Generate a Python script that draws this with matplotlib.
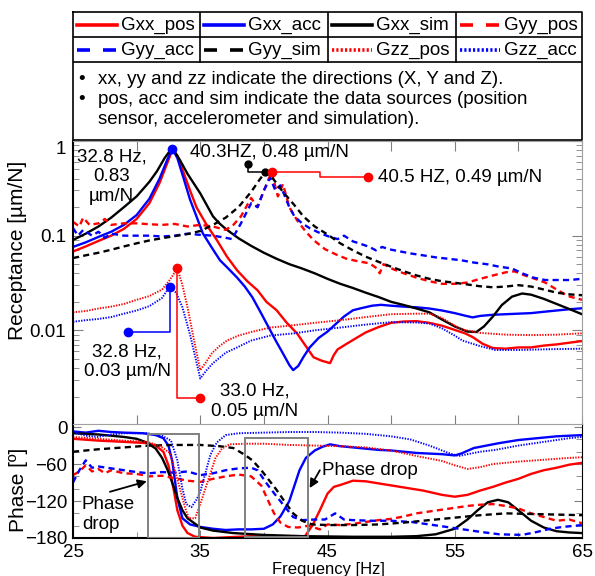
import matplotlib
matplotlib.use("Agg")
import matplotlib.pyplot as plt
from matplotlib.patches import Rectangle
from matplotlib.ticker import FixedLocator, LogLocator, NullFormatter

plt.rcParams["font.family"] = ["Liberation Sans", "DejaVu Sans"]

# ---- receptance magnitude [um/N] vs frequency [Hz] ----
f_xx_pos = [25, 26, 27, 28, 29, 30, 31, 31.8, 32.4, 32.8, 33.2, 33.6, 34.2, 34.7, 35.5, 36.3, 37.1, 37.9,
            38.7, 39.5, 40.2, 41, 41.8, 42.6, 43.3, 43.9, 44.5, 45.2, 45.5, 45.8, 46.5, 47.2, 48, 49, 50,
            51, 52, 53, 54, 55, 55.8, 56.4, 57.2, 58, 59, 60, 61, 62, 63, 64, 65]
g_xx_pos = [0.068, 0.077, 0.088, 0.1, 0.118, 0.15, 0.22, 0.36, 0.58, 0.8, 0.7, 0.5, 0.3, 0.2, 0.13, 0.09,
            0.06, 0.043, 0.033, 0.0265, 0.02, 0.0163, 0.012, 0.0093, 0.0068, 0.0052, 0.0048, 0.0045, 0.0055,
            0.0063, 0.0072, 0.0082, 0.0095, 0.0108, 0.012, 0.0124, 0.0125, 0.012, 0.0112, 0.0101, 0.0093,
            0.0085, 0.0072, 0.0065, 0.0064, 0.0066, 0.0066, 0.0069, 0.0071, 0.0074, 0.0077]

f_xx_acc = [25, 26, 27, 28, 29, 30, 31, 31.8, 32.4, 32.8, 33.2, 33.7, 34.2, 34.7, 35.2, 35.9, 36.55, 37.2,
            37.9, 38.5, 39.1, 39.8, 40.5, 41, 41.5, 42, 42.3, 42.7, 43.1, 43.6, 44.3, 45, 45.6, 46.3, 47,
            47.7, 48.5, 49.2, 50, 51, 52, 53, 54, 55, 55.8, 56.4, 57, 58, 59, 60, 61, 62, 63, 64, 65]
g_xx_acc = [0.076, 0.085, 0.097, 0.11, 0.13, 0.165, 0.245, 0.4, 0.63, 0.83, 0.66, 0.4, 0.24, 0.16, 0.106,
            0.075, 0.055, 0.045, 0.036, 0.029, 0.0223, 0.015, 0.01, 0.0075, 0.0057, 0.0043, 0.0038, 0.0042,
            0.0052, 0.0066, 0.0083, 0.0097, 0.0115, 0.014, 0.0163, 0.0172, 0.0182, 0.0186, 0.0182, 0.0178,
            0.0175, 0.017, 0.0162, 0.0152, 0.0143, 0.0137, 0.0142, 0.0146, 0.0148, 0.015, 0.0152, 0.0157,
            0.0162, 0.0167, 0.0171]

f_xx_sim = [25, 26, 27, 28, 29, 30, 31, 31.6, 32.2, 32.8, 33.4, 34, 35, 36, 36.5, 37, 38, 39, 40, 41, 42,
            43, 44, 45, 46, 47, 48, 49, 50, 51, 52, 53, 54, 55, 56, 56.7, 57.3, 58, 58.7, 59.5, 60.3, 61,
            62, 63, 64, 65]
g_xx_sim = [0.09, 0.105, 0.125, 0.155, 0.2, 0.26, 0.37, 0.48, 0.66, 0.85, 0.63, 0.45, 0.28, 0.16, 0.135,
            0.118, 0.094, 0.078, 0.066, 0.057, 0.05, 0.045, 0.04, 0.035, 0.031, 0.028, 0.025, 0.0225, 0.02,
            0.0185, 0.017, 0.0155, 0.013, 0.011, 0.0097, 0.0096, 0.011, 0.014, 0.0185, 0.0227, 0.0245,
            0.0238, 0.0215, 0.019, 0.0168, 0.0148]

f_yy_pos = [25, 25.5, 25.8, 26.3, 27, 27.5, 28, 29, 30, 31, 32, 33, 34, 35, 36, 37, 37.6, 38.2, 39, 39.5,
            40, 40.6, 41.1, 41.5, 42, 42.6, 43.3, 43.9, 44.8, 45.7, 46.5, 47.3, 48.3, 48.9, 49.1, 49.4,
            50.2, 51, 52, 53, 54, 55, 56, 57, 58, 59, 59.7, 60.5, 61.3, 62.1, 63, 63.9, 65]
g_yy_pos = [0.14, 0.125, 0.155, 0.13, 0.135, 0.15, 0.13, 0.135, 0.135, 0.132, 0.13, 0.133, 0.125, 0.13,
            0.125, 0.115, 0.13, 0.16, 0.25, 0.2, 0.3, 0.47, 0.26, 0.35, 0.2, 0.146, 0.11, 0.09, 0.072,
            0.063, 0.057, 0.054, 0.051, 0.045, 0.04, 0.05, 0.044, 0.04, 0.036, 0.033, 0.031, 0.031, 0.032,
            0.035, 0.038, 0.041, 0.042, 0.038, 0.035, 0.032, 0.027, 0.023, 0.021]

f_yy_acc = [25, 25.4, 25.8, 26.5, 27, 27.5, 28, 29, 30, 31, 32, 33, 34, 35, 36, 37, 37.5, 38.2, 39, 39.5,
            40, 40.5, 40.9, 41.3, 42, 42.4, 43, 43.6, 44.5, 45.2, 45.8, 46.3, 47, 47.6, 48.3, 48.8, 49.3,
            49.8, 50.5, 51.5, 52.5, 53.5, 54.5, 55.5, 56.5, 57.5, 58.5, 59.5, 60.3, 61.2, 62.1, 63, 64, 65]
g_yy_acc = [0.12, 0.1, 0.115, 0.1, 0.11, 0.095, 0.105, 0.1, 0.1, 0.1, 0.098, 0.1, 0.105, 0.102, 0.1, 0.095,
            0.092, 0.135, 0.22, 0.2, 0.3, 0.41, 0.3, 0.34, 0.2, 0.16, 0.135, 0.12, 0.105, 0.097, 0.092, 0.1,
            0.087, 0.082, 0.076, 0.07, 0.076, 0.072, 0.069, 0.065, 0.062, 0.059, 0.057, 0.055, 0.052, 0.05,
            0.047, 0.045, 0.04, 0.036, 0.034, 0.034, 0.034, 0.035]

f_yy_sim = [25, 26, 27, 28, 29, 30, 31, 32, 33, 34, 35, 36, 37, 38, 39, 39.6, 40.1, 40.6, 41.5, 42.4, 43.1,
            44, 45, 46, 47, 48, 49, 50, 51, 52, 53, 54, 55, 56, 57, 58, 59, 60, 61, 62, 63, 64, 65]
g_yy_sim = [0.058, 0.062, 0.066, 0.071, 0.077, 0.083, 0.089, 0.094, 0.099, 0.104, 0.112, 0.13, 0.155, 0.2,
            0.29, 0.38, 0.47, 0.42, 0.29, 0.21, 0.16, 0.125, 0.103, 0.083, 0.07, 0.06, 0.053, 0.047, 0.042,
            0.038, 0.035, 0.033, 0.0318, 0.0305, 0.0292, 0.0285, 0.029, 0.03, 0.029, 0.027, 0.025, 0.024,
            0.0235]

f_zz_pos = [25, 26, 27, 28, 29, 30, 31, 32, 32.6, 33.2, 33.6, 34, 34.5, 35, 35.4, 35.9, 36.5, 37.1, 38, 39,
            40.5, 42, 44, 46, 48, 50, 52, 53, 54, 55, 55.6, 57, 59, 61, 63, 65]
g_zz_pos = [0.0155, 0.016, 0.017, 0.0178, 0.019, 0.021, 0.023, 0.027, 0.034, 0.045, 0.03, 0.0175, 0.008,
            0.0038, 0.0045, 0.0057, 0.0068, 0.0078, 0.0088, 0.0096, 0.0107, 0.0112, 0.012, 0.0128, 0.0138,
            0.0148, 0.015, 0.015, 0.0135, 0.0112, 0.0102, 0.0094, 0.009, 0.0089, 0.009, 0.0093]

f_zz_acc = [25, 26, 27, 28, 29, 30, 31, 32, 32.6, 33.1, 33.6, 34.2, 35, 35.5, 36, 37, 37.9, 39, 40.5, 42.4,
            44, 46, 48, 50, 52, 53, 54, 55, 55.6, 57, 58.2, 60, 62, 65]
g_zz_acc = [0.0123, 0.0128, 0.0132, 0.0138, 0.015, 0.0162, 0.018, 0.022, 0.029, 0.025, 0.0175, 0.009,
            0.0031, 0.0038, 0.0045, 0.0058, 0.0066, 0.0078, 0.0088, 0.0093, 0.01, 0.0107, 0.0115, 0.0122,
            0.0121, 0.0118, 0.0105, 0.0088, 0.0078, 0.0068, 0.0062, 0.0062, 0.0063, 0.0064]

# ---- phase [deg] vs frequency [Hz] ----
pf_xx_pos = [25, 27, 29, 30.8, 31.5, 32.1, 32.5, 32.9, 33.2, 33.6, 34, 34.6, 36, 38, 40, 42, 43.2, 43.8,
             44.4, 45, 45.5, 46, 47, 48, 49.5, 51, 52.5, 54, 55, 56, 57, 58, 59, 60, 61, 62, 63, 64, 65]
ph_xx_pos = [-19, -22, -24, -26, -30, -40, -62, -100, -135, -160, -172, -178, -180, -178, -176, -178, -178,
             -160, -135, -108, -97, -94, -87, -88, -93, -98, -103, -110, -113, -110, -103, -97, -90, -84,
             -76, -70, -66, -61, -58]

pf_xx_acc = [25, 26, 27, 28, 29, 30.5, 31.5, 32.1, 32.5, 32.8, 33, 33.2, 33.6, 34.2, 35, 36, 37, 38, 39,
             40, 40.7, 41.3, 42, 42.4, 42.8, 43.3, 44, 44.6, 45.2, 46, 47, 48, 49, 50, 51, 52, 53, 54, 55,
             55.5, 56.5, 57.5, 58.5, 60, 61.5, 63, 65]
ph_xx_acc = [-7, -9, -6, -8, -9, -10, -13, -18, -30, -55, -85, -115, -148, -158, -162, -165, -167, -166,
             -166, -165, -158, -145, -120, -95, -70, -50, -38, -32, -28, -31, -33, -35, -37, -38, -40, -42,
             -43, -44, -46, -43, -34, -30, -26, -21, -18, -15, -13]

pf_xx_sim = [25, 27, 29, 30, 30.8, 31.5, 32, 32.4, 32.8, 33.2, 33.6, 34, 35, 36, 37.6, 40, 43, 47, 50, 52,
             53.5, 55, 56, 56.8, 57.6, 58.4, 59.2, 60, 61, 62, 63, 64, 65]
ph_xx_sim = [-10, -12, -16, -19, -25, -35, -50, -68, -90, -115, -135, -148, -163, -168, -172, -175, -177,
             -178, -178, -177, -174, -165, -150, -135, -122, -118, -122, -135, -152, -163, -169, -171, -172]

pf_yy_pos = [25, 25.5, 26, 26.5, 27, 27.5, 28, 29, 30, 31, 32, 33, 34, 35, 36, 37, 38, 39, 39.8, 40.3, 40.8,
             41.3, 41.9, 42.7, 43.5, 44.4, 45, 46, 47, 48, 49, 50, 51, 52, 53, 54, 55, 56, 57, 58, 59, 60,
             61, 62, 63, 64, 65]
ph_yy_pos = [-78, -72, -62, -72, -68, -75, -70, -75, -76, -80, -79, -83, -87, -89, -84, -80, -77, -80, -95,
             -118, -140, -155, -162, -163, -160, -166, -158, -159, -157, -154, -151, -149, -145, -140, -137,
             -134, -131, -128, -126, -125, -128, -132, -140, -146, -152, -150, -156]

pf_yy_acc = [25, 25.5, 26, 26.5, 27, 28, 29, 30, 31, 32, 33, 34, 35, 36, 37, 38, 39, 39.5, 40.2, 40.9, 41.6,
             42.3, 43, 44, 44.8, 45.6, 46.3, 47, 48.5, 50, 51.6, 53, 55, 57, 58.5, 60.3, 61.5, 62.5, 63.5, 65]
ph_yy_acc = [-90, -70, -54, -66, -64, -67, -70, -73, -75, -73, -74, -72, -78, -75, -70, -67, -66, -70, -91,
             -110, -128, -146, -151, -150, -150, -140, -150, -151, -152, -152, -154, -158, -164, -170, -174,
             -175, -170, -165, -162, -159]

pf_yy_sim = [25, 27, 29, 31, 33, 35, 36.5, 37.6, 38.5, 39.1, 39.8, 40.4, 41, 41.6, 42.3, 43, 43.8, 45, 47,
             49, 51, 53, 55, 57, 59, 61, 63, 65]
ph_yy_sim = [-40, -36, -33, -30, -29, -29, -31, -34, -45, -54, -70, -86, -102, -120, -140, -152, -158, -159,
             -159, -158, -155, -151, -147, -143, -140, -141, -142, -143]

pf_zz_pos = [25, 27, 29, 30.8, 31.8, 32.6, 33, 33.4, 33.8, 34.1, 34.6, 35, 35.4, 35.8, 36.2, 36.7, 37.3,
             38.5, 40, 42, 44, 46, 48, 50, 52, 54, 55, 56, 57, 58, 60, 62, 64, 65]
ph_zz_pos = [-16, -19, -22, -24, -30, -42, -70, -100, -130, -148, -148, -125, -100, -75, -50, -35, -28, -27,
             -27, -29, -30, -31, -33, -38, -47, -55, -62, -68, -65, -60, -56, -53, -50, -49]

pf_zz_acc = [25, 26, 27, 28, 29, 30.8, 32, 32.7, 33.2, 33.6, 33.9, 34.3, 34.7, 35, 35.4, 35.8, 36.3, 37, 38,
             40, 42, 44, 46, 48, 50, 51.5, 53, 54.5, 55.3, 56, 57, 58.2, 60, 62, 64, 65]
ph_zz_acc = [-8, -14, -16, -12, -10, -10, -14, -22, -54, -100, -125, -130, -118, -105, -75, -45, -25, -13,
             -10, -9, -8, -8, -9, -11, -15, -20, -30, -42, -47, -44, -40, -37, -30, -24, -18, -16]

names = ["Gxx_pos", "Gxx_acc", "Gxx_sim", "Gyy_pos", "Gyy_acc", "Gyy_sim", "Gzz_pos", "Gzz_acc"]
mag_data = [(f_xx_pos, g_xx_pos), (f_xx_acc, g_xx_acc), (f_xx_sim, g_xx_sim), (f_yy_pos, g_yy_pos),
            (f_yy_acc, g_yy_acc), (f_yy_sim, g_yy_sim), (f_zz_pos, g_zz_pos), (f_zz_acc, g_zz_acc)]
phase_data = [(pf_xx_pos, ph_xx_pos), (pf_xx_acc, ph_xx_acc), (pf_xx_sim, ph_xx_sim), (pf_yy_pos, ph_yy_pos),
              (pf_yy_acc, ph_yy_acc), (pf_yy_sim, ph_yy_sim), (pf_zz_pos, ph_zz_pos), (pf_zz_acc, ph_zz_acc)]

RED, BLUE, BLACK, GRAY = "#ff0000", "#0000ff", "#000000", "#808080"
DASH, DOT = (0, (2.6, 1.8)), (0, (0.7, 0.7))
styles = [
    dict(color=RED, ls="-", lw=1.7),
    dict(color=BLUE, ls="-", lw=1.7),
    dict(color=BLACK, ls="-", lw=1.7),
    dict(color=RED, ls=DASH, lw=1.7),
    dict(color=BLUE, ls=DASH, lw=1.7),
    dict(color=BLACK, ls=DASH, lw=1.7),
    dict(color=RED, ls=DOT, lw=1.4),
    dict(color=BLUE, ls=DOT, lw=1.4),
]

W, H = 595, 576
FS = 13.5


def px_box(x0, y0, x1, y1):
    return [x0 / W, 1 - y1 / H, (x1 - x0) / W, (y1 - y0) / H]


fig = plt.figure(figsize=(W / 100, H / 100), dpi=100)
ax = fig.add_axes(px_box(73, 141, 582, 425))
axp = fig.add_axes(px_box(73, 424, 582, 538))

for (f, g), st in zip(mag_data, styles):
    ax.plot(f, g, **st)
for (f, p), st in zip(phase_data, styles):
    axp.plot(f, p, **st)

# ---- top panel axes ----
ax.set_yscale("log")
ax.set_xlim(25, 65)
ax.set_ylim(0.001, 1)
ax.set_yticks([0.01, 0.1, 1])
ylabs = ax.set_yticklabels(["0.01", "0.1", "1"])
ylabs[-1].set_verticalalignment("top")
ax.yaxis.set_minor_locator(LogLocator(base=10, subs=range(2, 10)))
ax.yaxis.set_minor_formatter(NullFormatter())
ax.xaxis.set_major_locator(FixedLocator(range(25, 66, 5)))
ax.set_xticklabels([])
ax.tick_params(axis="both", which="both", direction="in", top=True, right=True, color=GRAY,
               labelsize=FS, pad=5)
ax.tick_params(axis="y", which="major", length=7)
ax.tick_params(axis="y", which="minor", length=4)
ax.tick_params(axis="x", length=7)
for side in ["top", "right"]:
    ax.spines[side].set_color("#a0a0a0")
ax.spines["left"].set_linewidth(1.5)

# ---- phase panel axes ----
axp.set_xlim(25, 65)
axp.set_ylim(-180, 5)
axp.set_yticks([0, -60, -120, -180])
axp.yaxis.set_minor_locator(FixedLocator(range(-160, 1, 20)))
axp.xaxis.set_major_locator(FixedLocator([25, 35, 45, 55, 65]))
axp.xaxis.set_minor_locator(FixedLocator([30, 40, 50, 60]))
axp.tick_params(axis="both", which="both", direction="in", right=True, color=GRAY, labelsize=FS, pad=4)
axp.tick_params(axis="both", which="major", length=6)
axp.tick_params(axis="both", which="minor", length=4)
axp.spines["top"].set_color("#a0a0a0")
axp.spines["left"].set_linewidth(1.5)
axp.spines["bottom"].set_linewidth(1.5)

# ---- peak annotations on the receptance panel ----
dot = dict(marker="o", ms=7, mec="none", ls="none", zorder=5)
lead = dict(lw=1.1, zorder=4)

ax.plot([32.8], [0.83], color=BLUE, **dot)
ax.text(28.05, 0.42, "32.8 Hz,\n0.83\nµm/N", ha="center", va="center", fontsize=FS)

ax.plot([38.75, 38.75, 40.1], [0.57, 0.47, 0.47], color=BLACK, **lead)
ax.plot([38.75, 40.1], [0.57, 0.47], color=BLACK, **dict(dot, ms=6))
ax.text(34.2, 0.76, "40.3HZ, 0.48 µm/N", ha="left", va="center", fontsize=FS)

ax.plot([40.6, 44.4, 44.4, 48.2], [0.47, 0.47, 0.416, 0.416], color=RED, **lead)
ax.plot([40.6, 48.2], [0.47, 0.416], color=RED, **dot)
ax.text(48.95, 0.416, "40.5 HZ, 0.49 µm/N", ha="left", va="center", fontsize=FS)

ax.plot([32.6, 32.6, 29.3], [0.029, 0.0095, 0.0095], color=BLUE, **lead)
ax.plot([32.6, 29.3], [0.029, 0.0095], color=BLUE, **dot)
ax.text(29.25, 0.0047, "32.8 Hz,\n0.03 µm/N", ha="center", va="center", fontsize=FS)

ax.plot([33.2, 33.2, 35.0], [0.045, 0.00195, 0.00195], color=RED, **lead)
ax.plot([33.2, 35.0], [0.045, 0.00195], color=RED, **dot)
ax.text(39.3, 0.00178, "33.0 Hz,\n0.05 µm/N", ha="center", va="center", fontsize=FS)

# ---- phase drop boxes and arrows ----
axp.add_patch(Rectangle((30.9, -180), 4.0, 169, fill=False, ec=GRAY, lw=1.4, zorder=6))
axp.add_patch(Rectangle((38.5, -178), 5.0, 160, fill=False, ec=GRAY, lw=1.4, zorder=6))
arrow = dict(arrowstyle="-|>", color=BLACK, lw=1.3, mutation_scale=13, shrinkA=0, shrinkB=0)
axp.annotate("", xy=(30.8, -88), xytext=(27.9, -105), arrowprops=arrow)
axp.text(25.7, -142, "Phase\ndrop", ha="left", va="center", fontsize=FS)
axp.annotate("", xy=(43.6, -99), xytext=(44.4, -70), arrowprops=arrow)
axp.text(44.55, -70, "Phase drop", ha="left", va="center", fontsize=FS)

# ---- axis titles ----
fig.text(18 / W, 1 - 250 / H, "Receptance [µm/N]", rotation=90, ha="center", va="center", fontsize=15)
fig.text(18 / W, 1 - 490 / H, "Phase [º]", rotation=90, ha="center", va="center", fontsize=15)
fig.text(328 / W, 1 - 562 / H, "Frequency [Hz]", ha="center", va="top", fontsize=12)

# ---- legend table at the top ----
lax = fig.add_axes(px_box(73, 12, 582, 141))
lax.set_xlim(0, 509)
lax.set_ylim(129, 0)
lax.axis("off")
lax.plot([0, 509, 509, 0, 0], [0, 0, 128, 128, 0], color=BLACK, lw=1.2, clip_on=False)
lax.plot([0, 509], [25, 25], color=BLACK, lw=1.2)
lax.plot([0, 509], [50, 50], color=BLACK, lw=1.2)
col_left = [0, 127, 255, 383]
for cx in col_left[1:]:
    lax.plot([cx, cx], [0, 50], color=BLACK, lw=1.2)
leg_styles = [dict(st) for st in styles]
for st in leg_styles:
    st["lw"] = 2.6
    if st["ls"] == DASH:
        st["ls"] = (0, (3.6, 3.6))
    elif st["ls"] == DOT:
        st["ls"] = (0, (0.6, 0.6))
for i, (name, st) in enumerate(zip(names, leg_styles)):
    row, col = divmod(i, 4)
    cy = 13 + 25 * row
    x0 = col_left[col]
    lax.plot([x0 + 4, x0 + 44], [cy, cy], **st)
    lax.text(x0 + 48, cy, name, ha="left", va="center", fontsize=FS)
notes = ["xx, yy and zz indicate the directions (X, Y and Z).",
         "pos, acc and sim indicate the data sources (position",
         "sensor, accelerometer and simulation)."]
for j, line in enumerate(notes):
    y = 68 + 19.5 * j
    if j < 2:
        lax.text(5, y, "•", ha="left", va="center", fontsize=FS)
    lax.text(25, y, line, ha="left", va="center", fontsize=FS)

fig.savefig("out.png", dpi=100)
